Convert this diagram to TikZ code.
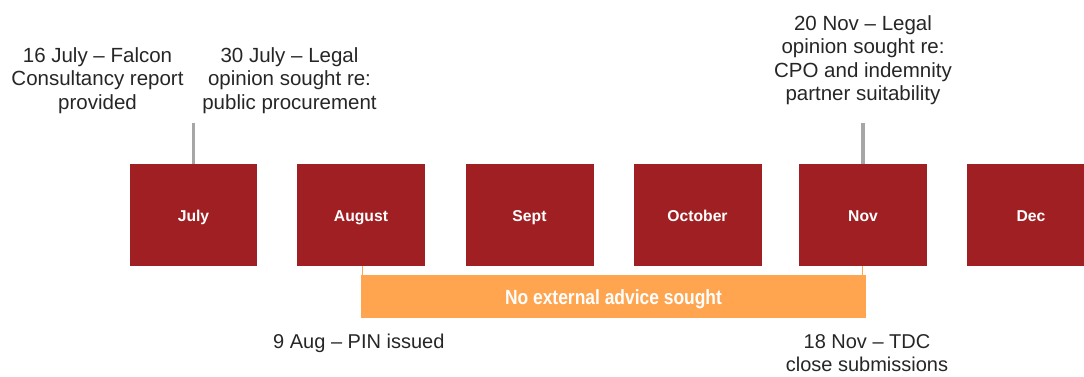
\documentclass[tikz,border=0pt]{standalone}
\usepackage{fontspec}
\setmainfont{Liberation Sans}
\definecolor{boxred}{HTML}{A01F22}
\definecolor{barorange}{HTML}{FFA54F}
\definecolor{linegray}{HTML}{A6A6A6}
\definecolor{txtgray}{HTML}{262626}
\begin{document}
\begin{tikzpicture}[x=1pt,y=-1pt,
  monthbox/.style={fill=boxred, draw=none, minimum width=128pt, minimum height=102pt, inner sep=0pt,
    text height=12pt, text depth=0pt,
    text=white, font=\bfseries\fontsize{15.7}{18}\selectfont},
  toplabel/.style={align=center, inner sep=0pt, text=txtgray, font=\fontsize{20.5}{23.5}\selectfont},
  botlabel/.style={align=center, inner sep=0pt, text=txtgray, font=\fontsize{20}{23}\selectfont},
  gline/.style={draw=linegray, line width=3.2pt},
  bline/.style={draw=barorange, line width=1.8pt},
  advicebar/.style={fill=barorange, draw=none, minimum width=505pt, minimum height=43pt, inner sep=0pt,
    text height=15pt, text depth=0pt,
    text=white, font=\bfseries\fontsize{20.5}{22}\selectfont}]
\useasboundingbox (0,0) rectangle (1084,376);
\clip (0,0) rectangle (1084,376);
% month boxes
\node[monthbox, minimum width=127pt] (jul) at (193.5,215) {July};
\node[monthbox] (aug) at (361,215) {August};
\node[monthbox] (sep) at (529.5,215) {Sept};
\node[monthbox] (oct) at (697.5,215) {October};
\node[monthbox] (nov) at (863,215) {Nov};
\node[monthbox] (dec) at (1031,215) {Dec};
% top labels
\node[toplabel, anchor=north] (l16) at (97.5,47) {16 July – Falcon\\Consultancy report\\provided};
\node[toplabel, anchor=north] (l30) at (289.5,47) {30 July – Legal\\opinion sought re:\\public procurement};
\node[toplabel, anchor=north] (l20) at (863,15) {20 Nov – Legal\\opinion sought re:\\CPO and indemnity\\partner suitability};
% gray ticks
\coordinate (t16) at (193.5,122.5);
\coordinate (t20) at (863,122.5);
\draw[gline] (t16) -- (jul.north);
\draw[gline] (t20) -- (nov.north);
% orange bar
\node[advicebar] (bar) at (613.5,296.5) {\scalebox{0.85}[1]{No external advice sought}};
\coordinate (ba) at (362.5,266);
\coordinate (bn) at (862.5,266);
\draw[bline] (ba) -- (ba |- bar.north);
\draw[bline] (bn) -- (bn |- bar.north);
% bottom labels
\node[botlabel, anchor=base west] (l9) at (273,348) {9 Aug – PIN issued};
\node[botlabel, anchor=north] (l18) at (867,334) {18 Nov – TDC\\close submissions};
\end{tikzpicture}
\end{document}
